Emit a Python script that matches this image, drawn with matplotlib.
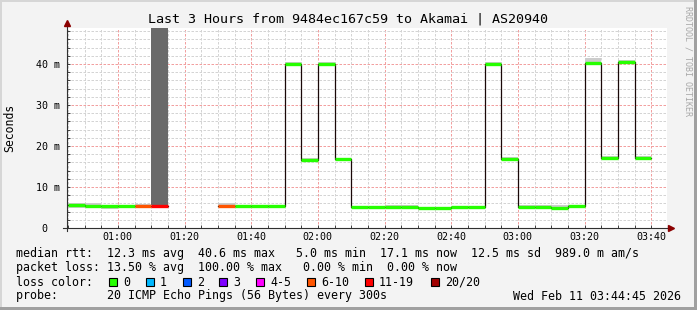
import numpy as np
import matplotlib
matplotlib.use('Agg')
import matplotlib.pyplot as plt
from matplotlib.patches import Rectangle
from matplotlib.ticker import MultipleLocator, FuncFormatter

W, H = 697, 310
MONO = 'DejaVu Sans Mono'

# 5 minute steps, first one starts at 00:45 (minutes after midnight), values in ms
step_start = 45
step_len = 5
median_ms = [5.5, 5.4, 5.3, 5.3, 5.3, 5.3, np.nan, np.nan, np.nan, 5.3,
             5.3, 5.3, 5.3, 40.0, 16.6, 40.0, 16.8, 5.1, 5.1, 5.2,
             5.2, 4.9, 4.9, 5.1, 5.1, 40.0, 16.9, 5.2, 5.2, 4.8,
             5.3, 40.2, 17.0, 40.5, 17.2]
loss_pings = [0, 0, 0, 0, 9, 16, 20, 20, 20, 10,
              0, 0, 0, 0, 0, 0, 0, 0, 0, 0,
              0, 0, 0, 0, 0, 0, 0, 0, 0, 0,
              0, 0, 0, 0, 0]
smoke_lo = [5.0, 5.0, 4.6, 4.8, 5.1, 5.6, np.nan, np.nan, np.nan, 5.2,
            5.1, 5.1, 5.1, 39.6, 16.2, 39.7, 16.4, 4.9, 4.9, 5.0,
            5.0, 4.6, 4.6, 4.9, 4.9, 39.6, 16.6, 4.9, 5.0, 4.7,
            5.1, 40.0, 16.7, 40.2, 16.9]
smoke_hi = [6.2, 6.0, 5.6, 5.6, 5.8, 60.0, np.nan, np.nan, np.nan, 6.0,
            5.6, 5.6, 5.6, 40.4, 17.0, 40.4, 17.2, 5.4, 5.4, 5.5,
            5.5, 5.2, 5.2, 5.4, 5.4, 40.4, 17.3, 5.5, 5.6, 5.6,
            5.6, 41.4, 17.6, 41.0, 17.5]

# smokeping loss buckets: (max lost pings, label, colour)
loss_buckets = [(0, '0', '#26ff00'), (1, '1', '#00b8ff'), (2, '2', '#0059ff'),
                (3, '3', '#7e00ff'), (5, '4-5', '#ff00ff'), (10, '6-10', '#ff5500'),
                (19, '11-19', '#ff0000'), (20, '20/20', '#a00000')]

x_start, x_end = 44.75, 224.75
y_max = 48.8

title = 'Last 3 Hours from 9484ec167c59 to Akamai | AS20940'
rtt_line = 'median rtt:  12.3 ms avg  40.6 ms max   5.0 ms min  17.1 ms now  12.5 ms sd  989.0 m am/s'
loss_line = 'packet loss: 13.50 % avg  100.00 % max   0.00 % min  0.00 % now'
probe_line = 'probe:       20 ICMP Echo Pings (56 Bytes) every 300s'
stamp = 'Wed Feb 11 03:44:45 2026'


def bucket_colour(n):
    for lim, _, c in loss_buckets:
        if n <= lim:
            return c
    return loss_buckets[-1][2]


def fx(x):
    return x / W


def fy(y):
    return 1 - y / H


fig = plt.figure(figsize=(W / 100, H / 100), dpi=100, facecolor='#f3f3f3')

# frame of the rrdtool image
fig.add_artist(Rectangle((0, 0), fx(2), 1, transform=fig.transFigure, color='#d6d6d6', lw=0))
fig.add_artist(Rectangle((0, fy(2)), 1, fx(2) * W / H, transform=fig.transFigure, color='#d6d6d6', lw=0))
fig.add_artist(Rectangle((fx(694), 0), fx(3), 1, transform=fig.transFigure, color='#a0a0a0', lw=0))
fig.add_artist(Rectangle((0, 0), 1, 3 / H, transform=fig.transFigure, color='#a0a0a0', lw=0))

ax = fig.add_axes([fx(67), 82 / H, 600 / W, 200 / H])
ax.set_facecolor('white')

t = np.array([step_start + i * step_len for i in range(len(median_ms))], dtype=float)
med = np.array(median_ms)
lo = np.array(smoke_lo)
hi = np.array(smoke_hi)

# smoke
smoke_cols = ['#6a6a6a' if n > 10 else '#cccccc' for n in loss_pings]
ax.bar(t, hi - lo, width=step_len, bottom=lo, align='edge', color=smoke_cols, lw=0, zorder=2)

# median step line
tx = np.append(t, t[-1] + step_len)
my = np.append(med, med[-1])
ax.plot(tx, my, drawstyle='steps-post', color='#1a0808', lw=0.9, zorder=3)

# loss coloured median
ax.hlines(med, t, t + step_len, colors=[bucket_colour(n) for n in loss_pings],
          lw=2.4, zorder=4, capstyle='butt')

ax.set_xlim(x_start, x_end)
ax.set_ylim(0, y_max)

ax.xaxis.set_major_locator(MultipleLocator(20))
ax.xaxis.set_minor_locator(MultipleLocator(5))
ax.yaxis.set_major_locator(MultipleLocator(10))
ax.yaxis.set_minor_locator(MultipleLocator(2))
ax.xaxis.set_major_formatter(FuncFormatter(lambda v, p: f'{int(round(v)) // 60:02d}:{int(round(v)) % 60:02d}'))
ax.yaxis.set_major_formatter(FuncFormatter(lambda v, p: '0  ' if v == 0 else f'{v:.0f} m'))

ax.grid(which='minor', color='#d4d4d4', lw=0.72, ls=(0, (2.5, 1.5)))
ax.grid(which='major', color='#f2a0a0', lw=0.72, ls=(0, (2.5, 1.5)))
ax.set_axisbelow(True)

for s in ax.spines.values():
    s.set_visible(False)
ax.tick_params(which='both', direction='in', length=2, width=0.7, color='#404040')
ax.tick_params(axis='y', which='both', pad=5)
ax.tick_params(axis='x', which='both', pad=3)
for lab in ax.get_xticklabels() + ax.get_yticklabels():
    lab.set_fontfamily(MONO)
    lab.set_fontsize(7.2)

# axis lines with arrows
ax.plot([0, 0], [-3 / 200, 1 + 5 / 200], transform=ax.transAxes, color='#303030', lw=0.8, clip_on=False, zorder=5)
ax.plot([-4 / 600, 1 + 3 / 600], [0, 0], transform=ax.transAxes, color='#303030', lw=0.8, clip_on=False, zorder=5)
ax.plot([0], [1 + 5 / 200], transform=ax.transAxes, marker='^', ms=4.5, color='#8b0000', clip_on=False, zorder=6)
ax.plot([1 + 4 / 600], [0], transform=ax.transAxes, marker='>', ms=4.5, color='#8b0000', clip_on=False, zorder=6)

fig.text(0.5, fy(19), title, ha='center', va='center', family=MONO, fontsize=9.6, color='black')
fig.text(fx(10), fy(128), 'Seconds', rotation=90, ha='center', va='center', family=MONO, fontsize=8.3)
fig.text(fx(688), fy(6), 'RRDTOOL / TOBI OETIKER', rotation=270, ha='center', va='top',
         family=MONO, fontsize=6.0, color='#a8a8a8')

fig.text(fx(16), fy(254), rtt_line, ha='left', va='center', family=MONO, fontsize=8.4)
fig.text(fx(16), fy(268), loss_line, ha='left', va='center', family=MONO, fontsize=8.4)
fig.text(fx(16), fy(282), 'loss color:', ha='left', va='center', family=MONO, fontsize=8.4)
fig.text(fx(16), fy(296), probe_line, ha='left', va='center', family=MONO, fontsize=8.4)
fig.text(fx(681), fy(296), stamp, ha='right', va='center', family=MONO, fontsize=8.4)

box_x = [109, 146, 183, 219, 256, 307, 365, 431]
for bx, (_, lab, col) in zip(box_x, loss_buckets):
    fig.add_artist(Rectangle((fx(bx), fy(286)), 8 / W, 8 / H, transform=fig.transFigure,
                             facecolor=col, edgecolor='black', lw=0.8))
    fig.text(fx(bx + 14), fy(282), lab, ha='left', va='center', family=MONO, fontsize=8.4)

fig.savefig('out.png', dpi=100, facecolor=fig.get_facecolor())
